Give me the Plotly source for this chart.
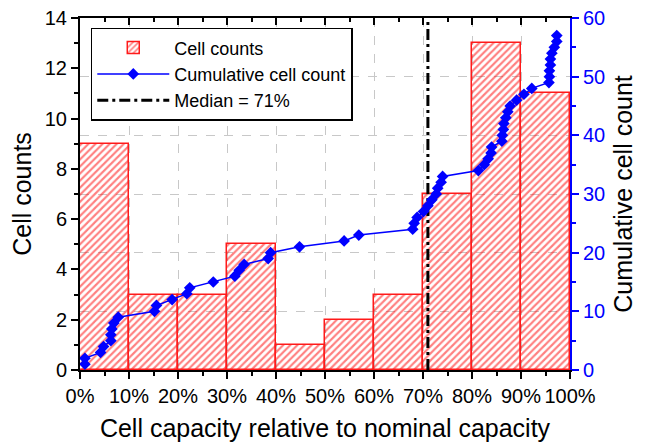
import plotly.graph_objects as go

# Histogram data
bin_centers = [5, 15, 25, 35, 45, 55, 65, 75, 85, 95]
cell_counts = [9, 3, 3, 5, 1, 2, 3, 7, 13, 11]

# Sorted cell capacities (%) for the cumulative curve
capacities = [1.0, 1.0, 4.2, 4.8, 6.3, 6.3, 6.5, 6.9, 7.8,
              15.2, 15.6, 18.8,
              21.8, 22.4, 27.2,
              31.6, 32.5, 33.5, 38.4, 38.9,
              44.8,
              53.9, 56.9,
              67.9, 68.2, 68.8,
              70.1, 71.0, 71.8, 72.7, 73.0, 73.7, 74.0,
              81.3, 82.5, 83.3, 83.9, 84.0, 86.1, 86.2, 86.4, 86.5, 86.9,
              87.3, 87.8, 89.1,
              90.6, 92.2, 95.7, 95.8, 95.8, 96.0, 96.0, 96.3, 96.8, 97.3, 97.3]
cumulative = list(range(1, len(capacities) + 1))

median_value = 71

FONT = "Liberation Sans, Arial, sans-serif"

fig = go.Figure()

fig.add_trace(go.Bar(
    x=bin_centers, y=cell_counts, width=10, name="Cell counts",
    marker=dict(color="rgba(255,255,255,0)",
                line=dict(color="#ff1a1a", width=1.5),
                pattern=dict(shape="/", fgcolor="#ff0000", bgcolor="rgba(255,255,255,0)",
                             size=5, solidity=0.42)),
    legendrank=1,
))

fig.add_trace(go.Scatter(
    x=[median_value, median_value], y=[0, 14], mode="lines",
    name="Median = 71%", line=dict(color="black", width=3, dash="11px,4px,3px,4px"),
    legendrank=3,
))

fig.add_trace(go.Scatter(
    x=capacities, y=cumulative, yaxis="y2", mode="lines+markers",
    name="Cumulative cell count",
    line=dict(color="#0000ff", width=1.5),
    marker=dict(symbol="diamond", size=9, color="#0000ff"),
    legendrank=2,
))

# invisible trace to anchor the top mirror axis
fig.add_trace(go.Scatter(x=[0], y=[0], xaxis="x2", mode="markers",
                         marker=dict(opacity=0), showlegend=False, hoverinfo="skip"))

fig.update_layout(
    width=645, height=445,
    margin=dict(l=80, r=75, t=18, b=75),
    paper_bgcolor="white", plot_bgcolor="white",
    font=dict(family=FONT, size=20, color="black"),
    showlegend=True,
    bargap=0,
    legend=dict(x=0.022, y=0.972, xanchor="left", yanchor="top",
                bgcolor="white", bordercolor="black", borderwidth=1.5,
                font=dict(size=18), itemwidth=72, tracegroupgap=0),
    xaxis=dict(range=[0, 100], dtick=10, ticksuffix="%", showline=True, linecolor="black",
               linewidth=2, ticks="outside", ticklen=7, tickwidth=2, tickcolor="black",
               showgrid=True, gridcolor="#c8c8c8", griddash="dash", gridwidth=1,
               zeroline=False, tickfont=dict(size=20), automargin=False,
               minor=dict(dtick=5, ticks="outside", ticklen=4, tickwidth=2, tickcolor="black", showgrid=False),
               title=dict(text="Cell capacity relative to nominal capacity", font=dict(size=25), standoff=13)),
    xaxis2=dict(range=[0, 100], overlaying="x", side="top", showline=True, linecolor="black",
                linewidth=2, ticks="inside", ticklen=7, tickwidth=2, tickcolor="black", dtick=10,
                showticklabels=False, showgrid=False, zeroline=False, automargin=False,
                minor=dict(dtick=5, ticks="inside", ticklen=4, tickwidth=2, tickcolor="black")),
    yaxis=dict(range=[0, 14], dtick=2, showline=True, linecolor="black", linewidth=2,
               ticks="outside", ticklen=7, tickwidth=2, tickcolor="black", showgrid=False,
               zeroline=False, tickfont=dict(size=20), automargin=False,
               minor=dict(dtick=1, ticks="outside", ticklen=4, tickwidth=2, tickcolor="black"),
               title=dict(text="Cell counts", font=dict(size=25), standoff=6)),
    yaxis2=dict(range=[0, 60], dtick=10, overlaying="y", side="right", showline=True,
                linecolor="#0000ff", linewidth=2, ticks="outside", ticklen=7, tickwidth=2,
                tickcolor="#0000ff", tickfont=dict(color="#0000ff", size=20), automargin=False,
                showgrid=True, gridcolor="#c8c8c8", griddash="dash", gridwidth=1, zeroline=False,
                minor=dict(dtick=5, ticks="outside", ticklen=4, tickwidth=2, tickcolor="#0000ff", showgrid=False),
                title=dict(text="Cumulative cell count", font=dict(size=25, color="black"), standoff=10)),
)

fig.write_html("out.html")
